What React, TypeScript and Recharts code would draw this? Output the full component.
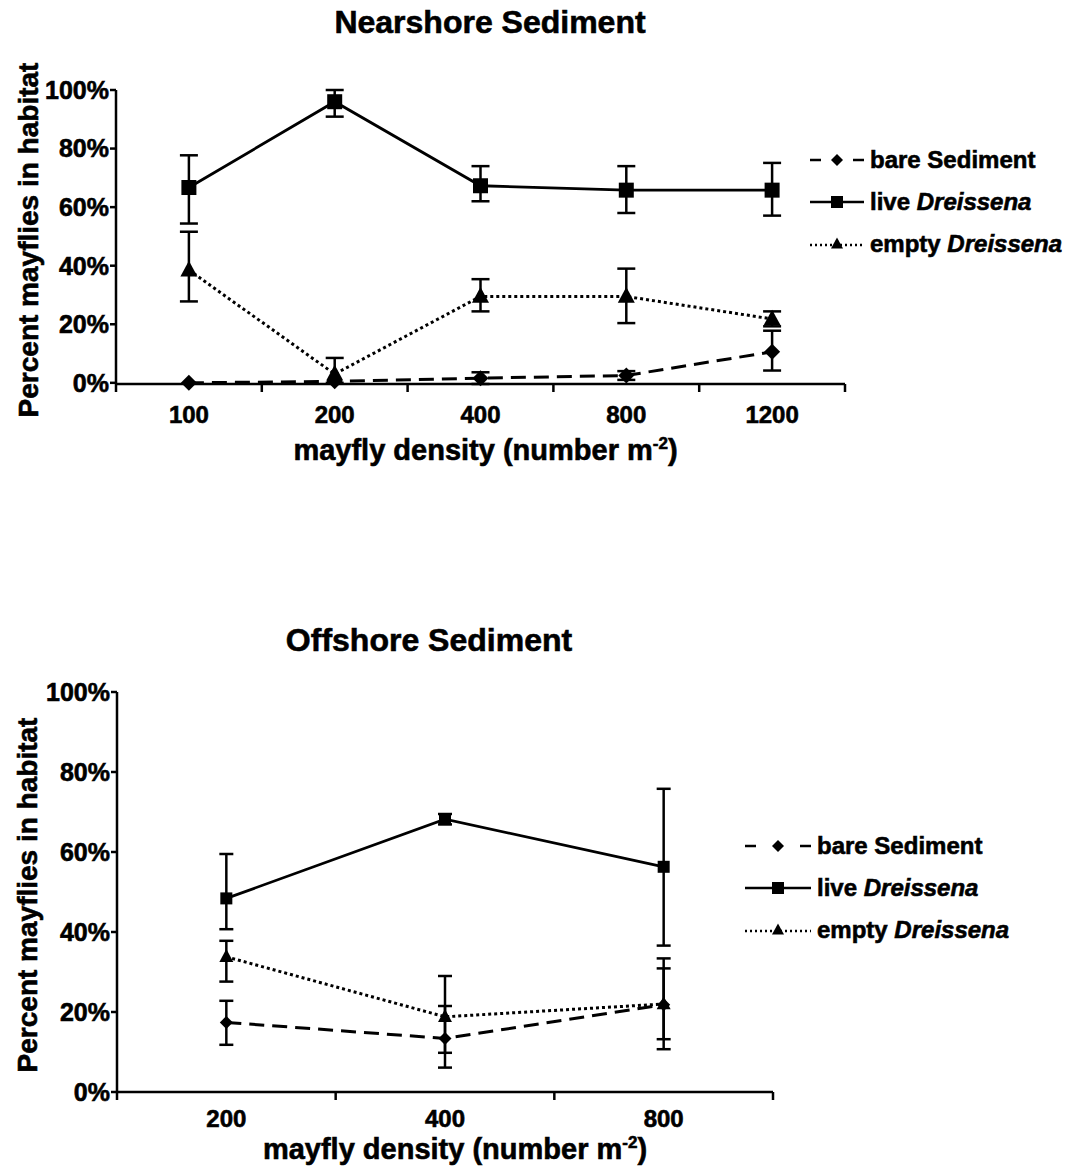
import React from "react";
import { LineChart, Line, XAxis, YAxis, ErrorBar, Legend, Label } from "recharts";

const FONT = '"Liberation Sans", Arial, Helvetica, sans-serif';

// y axis ticks (percent)
const yTicks = [0, 20, 40, 60, 80, 100];

// Nearshore Sediment
const nearDensity = ["100", "200", "400", "800", "1200"];
const nearBare = [0, 0.5, 1.6, 2.5, 10.6];
const nearBareErr = [0, 0, 2, 1.5, [6.4, 7.2]];
const nearLive = [66.7, 96, 67.3, 65.8, 65.8];
const nearLiveErr = [[12.3, 11], [5.1, 4], [5.3, 6.7], [7.8, 8.2], [8.7, 9.3]];
const nearEmpty = [38.5, 3, 29.5, 29.5, 21.8];
const nearEmptyErr = [[10.7, 13.1], [3, 5.5], [5.1, 5.9], [9.1, 9.5], [2.5, 2.6]];

// Offshore Sediment
const offDensity = ["200", "400", "800"];
const offBare = [17.4, 13.4, 21.8];
const offBareErr = [[5.6, 5.4], [7.3, 8.1], [8.6, 9.1]];
const offLive = [48.4, 68.2, 56.3];
const offLiveErr = [[7.7, 11.1], [1.3, 1.3], [19.7, 19.5]];
const offEmpty = [33.8, 18.8, 22];
const offEmptyErr = [[6.2, 4], [9, 10.2], [11.3, 11.4]];

function buildRows(densities, bare, bareErr, live, liveErr, empty, emptyErr) {
  return densities.map((d, i) => ({
    density: d,
    pos: i + 0.5,
    bare: bare[i],
    bareErr: bareErr[i],
    live: live[i],
    liveErr: liveErr[i],
    empty: empty[i],
    emptyErr: emptyErr[i],
  }));
}

const nearRows = buildRows(nearDensity, nearBare, nearBareErr, nearLive, nearLiveErr, nearEmpty, nearEmptyErr);
const offRows = buildRows(offDensity, offBare, offBareErr, offLive, offLiveErr, offEmpty, offEmptyErr);

const diamondPath = (cx, cy, s) => `M${cx},${cy - s}L${cx + s},${cy}L${cx},${cy + s}L${cx - s},${cy}Z`;
const trianglePath = (cx, cy, s) => `M${cx},${cy - s * 1.1}L${cx + s},${cy + s * 0.75}L${cx - s},${cy + s * 0.75}Z`;

const diamondDot = (s) => (p) => {
  const { cx, cy, index } = p;
  if (cx == null || cy == null) return <g key={`dd-${index}`} />;
  return <path key={`dd-${index}`} d={diamondPath(cx, cy, s)} fill="#000" />;
};
const squareDot = (s) => (p) => {
  const { cx, cy, index } = p;
  if (cx == null || cy == null) return <g key={`sd-${index}`} />;
  return <rect key={`sd-${index}`} x={cx - s} y={cy - s} width={s * 2} height={s * 2} fill="#000" />;
};
const triangleDot = (s) => (p) => {
  const { cx, cy, index } = p;
  if (cx == null || cy == null) return <g key={`td-${index}`} />;
  return <path key={`td-${index}`} d={trianglePath(cx, cy, s)} fill="#000" />;
};

// heavy bold look of the original
const textStyle = { fontFamily: FONT, fontWeight: 700, fill: "#000", stroke: "#000", strokeWidth: 0.6 };

// x ticks: whole numbers are the band edges (tick marks only), halves carry the density label
const densityTick = (densities, labelOffset) => (props) => {
  const { x, y, payload } = props;
  const v = payload.value;
  if (Number.isInteger(v)) {
    const y0 = y - labelOffset;
    return <line x1={x} x2={x} y1={y0} y2={y0 + 8} stroke="#000" strokeWidth={2.5} />;
  }
  return (
    <text x={x} y={y} dy="0.71em" textAnchor="middle" style={{ ...textStyle, fontSize: 24 }}>
      {densities[Math.floor(v)]}
    </text>
  );
};

function LegendBox({ sampleW }) {
  const mid = sampleW / 2;
  const row = { display: "flex", alignItems: "center", height: 42 };
  const txt = {
    fontFamily: FONT,
    fontWeight: 700,
    fontSize: 24,
    color: "#000",
    whiteSpace: "nowrap" as const,
    WebkitTextStroke: "0.6px #000",
  };
  return (
    <div>
      <div style={row}>
        <svg width={sampleW} height={24}>
          <line x1={2} x2={13} y1={12} y2={12} stroke="#000" strokeWidth={2.5} />
          <line x1={sampleW - 13} x2={sampleW - 2} y1={12} y2={12} stroke="#000" strokeWidth={2.5} />
          <path d={diamondPath(mid, 12, 6)} fill="#000" />
        </svg>
        <span style={{ ...txt, marginLeft: 4 }}>bare Sediment</span>
      </div>
      <div style={row}>
        <svg width={sampleW} height={24}>
          <line x1={2} x2={sampleW - 2} y1={12} y2={12} stroke="#000" strokeWidth={2.5} />
          <rect x={mid - 6} y={6} width={12} height={12} fill="#000" />
        </svg>
        <span style={{ ...txt, marginLeft: 4 }}>
          live <i>Dreissena</i>
        </span>
      </div>
      <div style={row}>
        <svg width={sampleW} height={24}>
          <line x1={2} x2={sampleW - 2} y1={13} y2={13} stroke="#000" strokeWidth={2.5} strokeDasharray="2 3" />
          <path d={trianglePath(mid, 12, 6)} fill="#000" />
        </svg>
        <span style={{ ...txt, marginLeft: 4 }}>
          empty <i>Dreissena</i>
        </span>
      </div>
    </div>
  );
}

function Panel({ rows, densities, width, height, margin, yWidth, catHeight, tickSize, tickMargin, xLabelDy, xLabelShift, yLabelX, cap, mk, legend }) {
  const n = densities.length;
  const xTicks = densities.flatMap((_, i) => [i, i + 0.5]).concat(n);
  const axisStroke = { stroke: "#000", strokeWidth: 2.5 };
  return (
    <LineChart width={width} height={height} data={rows} margin={margin}>
      <XAxis
        dataKey="pos"
        type="number"
        domain={[0, n]}
        ticks={xTicks}
        interval={0}
        axisLine={axisStroke}
        tickLine={false}
        tickSize={tickSize}
        tickMargin={tickMargin}
        height={catHeight}
        tick={densityTick(densities, tickSize + tickMargin)}
      >
        <Label
          content={({ viewBox }: any) => (
            <text
              x={viewBox.x + viewBox.width / 2 + xLabelShift}
              y={viewBox.y + xLabelDy}
              textAnchor="middle"
              style={{ ...textStyle, fontSize: 29 }}
            >
              mayfly density (number m
              <tspan dy={-11} fontSize={17}>
                -2
              </tspan>
              <tspan dy={11}>)</tspan>
            </text>
          )}
        />
      </XAxis>
      <YAxis
        type="number"
        domain={[0, 100]}
        ticks={yTicks}
        interval={0}
        tickFormatter={(v) => `${v}%`}
        width={yWidth}
        tickSize={6}
        tickMargin={1}
        axisLine={axisStroke}
        tickLine={axisStroke}
        tick={{ ...textStyle, fontSize: 25 }}
      >
        <Label
          content={({ viewBox }: any) => {
            const cx = viewBox.x + yLabelX;
            const cy = viewBox.y + viewBox.height / 2 + 3;
            return (
              <text
                x={cx}
                y={cy}
                transform={`rotate(-90 ${cx} ${cy})`}
                textAnchor="middle"
                dominantBaseline="central"
                style={{ ...textStyle, fontSize: 28 }}
              >
                Percent mayflies in habitat
              </text>
            );
          }}
        />
      </YAxis>
      <Legend
        layout="horizontal"
        align="center"
        verticalAlign="middle"
        wrapperStyle={{ left: legend.left, top: legend.top, width: 300 }}
        content={() => <LegendBox sampleW={legend.sampleW} />}
      />
      <Line
        dataKey="bare"
        stroke="#000"
        strokeWidth={3}
        strokeDasharray="15 8"
        dot={diamondDot(mk.d)}
        activeDot={false}
        isAnimationActive={false}
      >
        <ErrorBar dataKey="bareErr" width={cap} stroke="#000" strokeWidth={2.5} direction="y" />
      </Line>
      <Line
        dataKey="empty"
        stroke="#000"
        strokeWidth={3}
        strokeDasharray="3 3"
        dot={triangleDot(mk.t)}
        activeDot={false}
        isAnimationActive={false}
      >
        <ErrorBar dataKey="emptyErr" width={cap} stroke="#000" strokeWidth={2.5} direction="y" />
      </Line>
      <Line
        dataKey="live"
        stroke="#000"
        strokeWidth={2.8}
        dot={squareDot(mk.s)}
        activeDot={false}
        isAnimationActive={false}
      >
        <ErrorBar dataKey="liveErr" width={cap} stroke="#000" strokeWidth={2.5} direction="y" />
      </Line>
    </LineChart>
  );
}

const titleStyle = {
  position: "absolute" as const,
  fontFamily: FONT,
  fontWeight: 700,
  fontSize: 32,
  lineHeight: "32px",
  textAlign: "center" as const,
  width: 600,
  color: "#000",
  WebkitTextStroke: "0.6px #000",
};

export default function App() {
  return (
    <div style={{ position: "absolute", left: 0, top: 0, width: 1083, height: 1171, background: "#fff", overflow: "hidden" }}>
      <div style={{ ...titleStyle, left: 490 - 300, top: 6 }}>Nearshore Sediment</div>
      <div style={{ position: "absolute", left: 0, top: 0 }}>
        <Panel
          rows={nearRows}
          densities={nearDensity}
          width={1083}
          height={480}
          margin={{ top: 90, right: 238, left: 0, bottom: 6 }}
          yWidth={116}
          catHeight={90}
          tickSize={10}
          tickMargin={12}
          xLabelDy={76}
          xLabelShift={5}
          yLabelX={28}
          cap={9}
          mk={{ d: 8, s: 7.5, t: 8.5 }}
          legend={{ left: 808, top: 139, sampleW: 58 }}
        />
      </div>
      <div style={{ ...titleStyle, left: 429 - 300, top: 624 }}>Offshore Sediment</div>
      <div style={{ position: "absolute", left: 0, top: 580 }}>
        <Panel
          rows={offRows}
          densities={offDensity}
          width={1083}
          height={591}
          margin={{ top: 112, right: 310, left: 0, bottom: 5 }}
          yWidth={117}
          catHeight={74}
          tickSize={8}
          tickMargin={10}
          xLabelDy={67}
          xLabelShift={10}
          yLabelX={27}
          cap={7}
          mk={{ d: 6.5, s: 6, t: 7 }}
          legend={{ left: 743, top: 245, sampleW: 70 }}
        />
      </div>
    </div>
  );
}
